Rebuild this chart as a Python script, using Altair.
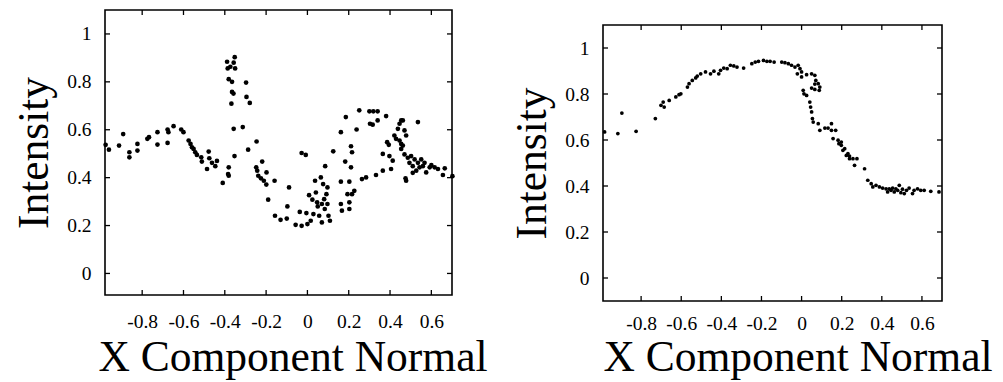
import altair as alt
import pandas as pd

# ---------------- data ----------------
left_x = [-0.977, -0.961, -0.912, -0.892, -0.862, -0.862, -0.823, -0.823, -0.775, -0.767,
          -0.726, -0.726, -0.677, -0.677, -0.673, -0.648, -0.611, -0.600, -0.575, -0.566,
          -0.559, -0.551, -0.543, -0.535, -0.514, -0.511, -0.486, -0.478, -0.475, -0.462,
          -0.446, -0.438, -0.410, -0.389, -0.386, -0.381, -0.373, -0.365, -0.357, -0.352,
          -0.350, -0.365, -0.358, -0.368, -0.357, -0.353, -0.381, -0.381, -0.384, -0.313,
          -0.297, -0.295, -0.279, -0.287, -0.246, -0.248, -0.243, -0.238, -0.219, -0.225,
          -0.211, -0.198, -0.199, -0.190, -0.159, -0.157, -0.130, -0.100, -0.097, -0.089,
          -0.057, -0.037, -0.028, -0.028, -0.008, -0.005, 0.000, 0.008, 0.016, 0.024,
          0.029, 0.041, 0.047, 0.037, 0.050, 0.057, 0.065, 0.070, 0.076, 0.081,
          0.084, 0.086, 0.092, 0.097, 0.102, 0.109, 0.097, 0.070, 0.125, 0.162,
          0.167, 0.162, 0.162, 0.183, 0.186, 0.194, 0.203, 0.203, 0.203, 0.211,
          0.211, 0.216, 0.216, 0.227, 0.238, 0.251, 0.264, 0.284, 0.300, 0.319,
          0.340, 0.303, 0.316, 0.340, 0.332, 0.365, 0.381, 0.386, 0.394, 0.365,
          0.397, 0.405, 0.413, 0.421, 0.429, 0.438, 0.446, 0.454, 0.462, 0.446,
          0.454, 0.470, 0.478, 0.470, 0.486, 0.494, 0.475, 0.478, 0.502, 0.510,
          0.519, 0.527, 0.535, 0.535, 0.543, 0.551, 0.559, 0.567, 0.575, 0.592,
          0.600, 0.616, 0.632, 0.656, 0.665, 0.702, 0.510, 0.454, 0.462]
left_y = [0.537, 0.517, 0.534, 0.582, 0.506, 0.485, 0.541, 0.513, 0.562, 0.569,
          0.590, 0.538, 0.601, 0.545, 0.590, 0.615, 0.601, 0.590, 0.555, 0.541,
          0.527, 0.520, 0.506, 0.495, 0.485, 0.467, 0.436, 0.509, 0.481, 0.462,
          0.448, 0.470, 0.378, 0.884, 0.856, 0.811, 0.863, 0.800, 0.880, 0.903,
          0.856, 0.758, 0.751, 0.709, 0.604, 0.490, 0.443, 0.408, 0.415, 0.611,
          0.797, 0.737, 0.712, 0.517, 0.551, 0.443, 0.429, 0.408, 0.467, 0.397,
          0.387, 0.422, 0.371, 0.308, 0.387, 0.241, 0.224, 0.229, 0.280, 0.359,
          0.203, 0.257, 0.199, 0.503, 0.495, 0.252, 0.206, 0.327, 0.220, 0.308,
          0.248, 0.338, 0.297, 0.387, 0.280, 0.241, 0.401, 0.213, 0.373, 0.310,
          0.269, 0.448, 0.331, 0.290, 0.241, 0.220, 0.359, 0.290, 0.510, 0.290,
          0.262, 0.590, 0.383, 0.467, 0.653, 0.331, 0.269, 0.297, 0.383, 0.443,
          0.531, 0.506, 0.331, 0.345, 0.601, 0.681, 0.394, 0.401, 0.677, 0.677,
          0.677, 0.625, 0.621, 0.639, 0.411, 0.429, 0.657, 0.548, 0.537, 0.499,
          0.490, 0.436, 0.471, 0.576, 0.562, 0.604, 0.625, 0.639, 0.639, 0.555,
          0.520, 0.597, 0.576, 0.497, 0.483, 0.462, 0.397, 0.387, 0.490, 0.448,
          0.476, 0.429, 0.632, 0.462, 0.443, 0.476, 0.448, 0.462, 0.422, 0.443,
          0.452, 0.443, 0.436, 0.411, 0.439, 0.406, 0.420, 0.541, 0.534]

right_x = [-0.982, -0.916, -0.896, -0.825, -0.729, -0.701, -0.685, -0.690, -0.660, -0.627,
           -0.611, -0.602, -0.569, -0.561, -0.545, -0.528, -0.520, -0.503, -0.479, -0.454,
           -0.437, -0.413, -0.404, -0.388, -0.371, -0.355, -0.338, -0.322, -0.289, -0.248,
           -0.231, -0.215, -0.190, -0.173, -0.157, -0.137, -0.099, -0.083, -0.066, -0.050,
           -0.033, -0.017, -0.008, -0.021, 0.000, 0.000, 0.025, 0.050, 0.066, 0.071,
           0.083, 0.091, 0.088, 0.066, 0.050, 0.008, 0.012, 0.025, 0.041, 0.045,
           0.050, 0.054, 0.058, 0.083, 0.091, 0.116, 0.132, 0.149, 0.149, 0.157,
           0.170, 0.182, 0.186, 0.198, 0.206, 0.215, 0.223, 0.231, 0.239, 0.256,
           0.264, 0.276, 0.314, 0.330, 0.347, 0.355, 0.371, 0.388, 0.404, 0.421,
           0.429, 0.446, 0.454, 0.462, 0.479, 0.487, 0.495, 0.503, 0.512, 0.523,
           0.536, 0.553, 0.561, 0.578, 0.594, 0.611, 0.644, 0.685, 0.470, 0.437,
           0.198, 0.239, 0.066]
right_y = [0.635, 0.628, 0.717, 0.638, 0.693, 0.751, 0.743, 0.765, 0.772, 0.787,
           0.797, 0.801, 0.830, 0.845, 0.859, 0.870, 0.878, 0.888, 0.896, 0.888,
           0.899, 0.888, 0.903, 0.913, 0.910, 0.925, 0.922, 0.917, 0.913, 0.932,
           0.939, 0.942, 0.946, 0.942, 0.942, 0.939, 0.939, 0.936, 0.932, 0.925,
           0.917, 0.925, 0.910, 0.888, 0.896, 0.874, 0.884, 0.888, 0.881, 0.859,
           0.845, 0.830, 0.816, 0.820, 0.826, 0.816, 0.801, 0.794, 0.765, 0.743,
           0.722, 0.693, 0.678, 0.671, 0.642, 0.652, 0.652, 0.671, 0.642, 0.606,
           0.642, 0.599, 0.584, 0.577, 0.555, 0.562, 0.533, 0.541, 0.519, 0.519,
           0.490, 0.519, 0.475, 0.425, 0.410, 0.396, 0.403, 0.396, 0.391, 0.388,
           0.374, 0.381, 0.391, 0.374, 0.381, 0.403, 0.371, 0.386, 0.367, 0.381,
           0.391, 0.367, 0.381, 0.388, 0.381, 0.381, 0.377, 0.374, 0.388, 0.388,
           0.591, 0.530, 0.843]

x_ticks = [-0.8, -0.6, -0.4, -0.2, 0, 0.2, 0.4, 0.6]
y_ticks = [0, 0.2, 0.4, 0.6, 0.8, 1]
x_title = "X Component Normal"
y_title = "Intensity"

SERIF = "Liberation Serif"
TL = 5  # inward tick length


def panel(xs, ys, width, height, xdom, ydom, pt_size, title_dx, lab_pad, title_pad):
    df = pd.DataFrame({"x": xs, "y": ys})
    xt = pd.DataFrame({"x": x_ticks})
    yt = pd.DataFrame({"y": y_ticks})
    xscale = alt.Scale(domain=xdom, nice=False, zero=False)
    yscale = alt.Scale(domain=ydom, nice=False, zero=False)
    xaxis = alt.Axis(values=x_ticks, format="~g", title=x_title,
                     labelExpr="replace(datum.label, '\u2212', '-')",
                     labelPadding=lab_pad, titlePadding=title_pad,
                     titleX=width / 2 + title_dx)
    yaxis = alt.Axis(values=y_ticks, format="~g", title=y_title)
    X = alt.X("x:Q", scale=xscale, axis=xaxis)
    Y = alt.Y("y:Q", scale=yscale, axis=yaxis)

    pts = alt.Chart(df).mark_point(filled=True, color="black", opacity=1,
                                   size=pt_size, shape="circle").encode(x=X, y=Y)

    def rule(d):
        return alt.Chart(d).mark_rule(color="black", strokeWidth=1.3)

    top = rule(xt).encode(x=X, y=alt.value(0), y2=alt.value(TL))
    bot = rule(xt).encode(x=X, y=alt.value(height), y2=alt.value(height - TL))
    lft = rule(yt).encode(y=Y, x=alt.value(0), x2=alt.value(TL))
    rgt = rule(yt).encode(y=Y, x=alt.value(width), x2=alt.value(width - TL))

    return alt.layer(pts, top, bot, lft, rgt).properties(width=width, height=height)


left = panel(left_x, left_y, 347, 285, [-0.98, 0.70], [-0.09, 1.10], 22, 14, 17, 6)
right_panel = panel(right_x, right_y, 339, 276, [-0.99, 0.70], [-0.10, 1.10], 14, 25, 13, 4)

# invisible spacer that pushes the right panel down a little
spacer = alt.Chart(pd.DataFrame({"x": [0]})).mark_rule(opacity=0).encode(
    x=alt.value(10), x2=alt.value(20), y=alt.value(5)
).properties(width=339, height=12, view=alt.ViewBackground(stroke="transparent"))

right = alt.vconcat(spacer, right_panel, spacing=0)

chart = alt.hconcat(left, right, spacing=21).properties(
    padding={"left": 3, "top": 0, "right": 0, "bottom": 0}, background="white"
).configure_view(stroke="black", strokeWidth=1.6).configure_axis(
    ticks=False, domain=False, grid=False,
    labelFont=SERIF, labelFontSize=19.5, labelColor="black", labelFontWeight="normal",
    titleFont=SERIF, titleFontSize=43.5, titleFontWeight="normal", titleColor="black",
).configure_axisY(labelPadding=14, titlePadding=10)

chart.save("out.html", embed_options={"renderer": "svg", "actions": False})
